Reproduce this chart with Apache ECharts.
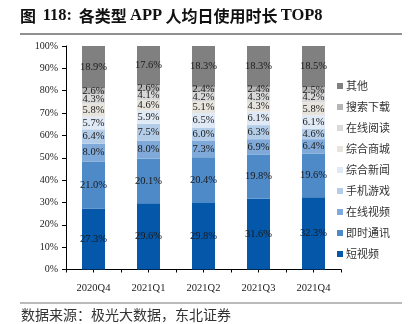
<!DOCTYPE html>
<html>
<head>
<meta charset="utf-8">
<script src="https://cdn.jsdelivr.net/npm/echarts@6/dist/echarts.min.js"></script>
<style>
html,body{margin:0;padding:0;background:#fff;}
#c{width:409px;height:324px;}
</style>
</head>
<body>
<div id="c"></div>
<script>
const categories = ['2020Q4','2021Q1','2021Q2','2021Q3','2021Q4'];
const seriesNames = ['短视频','即时通讯','在线视频','手机游戏','综合新闻','综合商城','在线阅读','搜索下载','其他'];
const shortVideo   = [27.3, 29.6, 29.8, 31.6, 32.3];
const instantMsg   = [21.0, 20.1, 20.4, 19.8, 19.6];
const onlineVideo  = [8.0, 8.0, 7.3, 6.9, 6.4];
const mobileGame   = [6.4, 7.5, 6.0, 6.3, 4.6];
const newsApp      = [5.7, 5.9, 6.5, 6.1, 6.1];
const mallApp      = [5.8, 4.6, 5.1, 4.3, 5.8];
const onlineRead   = [4.3, 4.1, 4.2, 4.3, 4.2];
const searchDl     = [2.6, 2.6, 2.4, 2.4, 2.5];
const others       = [18.9, 17.6, 18.3, 18.3, 18.5];
const yTicks = ['0%','10%','20%','30%','40%','50%','60%','70%','80%','90%','100%'];

const seriesData = [shortVideo, instantMsg, onlineVideo, mobileGame, newsApp, mallApp, onlineRead, searchDl, others];
const colors = ['#0557a9','#4e8ac8','#7ea9d8','#b3cce8','#e0e9f6','#e7e3dd','#d9d9d9','#b5b5b5','#808080'];

const serif = '"Liberation Serif","Times New Roman",serif';
const cjk = '"Noto Sans CJK SC","Liberation Serif",sans-serif';

const chart = echarts.init(document.getElementById('c'));
chart.setOption({
  animation: false,
  backgroundColor: '#fff',
  grid: {left: 66, top: 46, right: 68, bottom: 54.5, containLabel: false},
  legend: {
    orient: 'vertical',
    left: 332, top: 75,
    itemWidth: 6, itemHeight: 6, itemGap: 9,
    icon: 'rect',
    data: seriesNames.slice().reverse(),
    textStyle: {fontFamily: cjk, fontSize: 11, color: '#333', lineHeight: 12, padding: [0,0,0,-2]}
  },
  xAxis: [{
    type: 'category', data: categories,
    axisLine: {lineStyle: {color: '#000', width: 1}},
    axisTick: {show: true, length: 3, interval: 0, lineStyle: {color: '#000'}},
    axisLabel: {fontFamily: serif, fontSize: 10.5, color: '#222', margin: 13}
  }, {
    type: 'category', data: categories, position: 'bottom',
    axisLine: {show: false},
    axisTick: {show: true, alignWithLabel: true, length: 3, interval: 0, lineStyle: {color: '#000'}},
    axisLabel: {show: false}
  }],
  yAxis: {
    type: 'value', min: 0, max: 100, interval: 10,
    axisLine: {show: true, lineStyle: {color: '#000'}},
    axisTick: {show: true, length: 4, lineStyle: {color: '#000'}},
    splitLine: {show: false},
    axisLabel: {fontFamily: serif, fontSize: 10, color: '#222', margin: 8,
      formatter: function(v){ return yTicks[Math.round(v/10)]; }}
  },
  series: seriesNames.map(function(name, i){
    return {
      name: name, type: 'bar', stack: 'total', barWidth: 23,
      itemStyle: {color: colors[i]},
      label: {show: true, position: 'inside', fontFamily: serif, fontSize: 10.5, color: '#1a1a1a',
        formatter: function(p){ return p.value.toFixed(1) + '%'; }},
      data: seriesData[i]
    };
  }),
  graphic: [
    {type: 'text', left: 20, top: 7, style: {
      text: '{c|图}  {l|118:}  {c|各类型} {l|APP} {c|人均日使用时长} {l|TOP8}',
      fill: '#111',
      rich: {
        c: {fontFamily: cjk, fontWeight: 'bold', fontSize: 16, fill: '#111'},
        l: {fontFamily: serif, fontWeight: 'bold', fontSize: 16.5, fill: '#111'}
      }
    }},
    {type: 'line', shape: {x1: 20, y1: 34, x2: 402, y2: 34}, style: {stroke: '#222', lineWidth: 1.2}},
    {type: 'line', shape: {x1: 20, y1: 303, x2: 402, y2: 303}, style: {stroke: '#777', lineWidth: 1}},
    {type: 'text', left: 21, top: 308, style: {text: '数据来源：极光大数据，东北证券', font: '14px ' + cjk, fill: '#333'}}
  ]
});
</script>
</body>
</html>
